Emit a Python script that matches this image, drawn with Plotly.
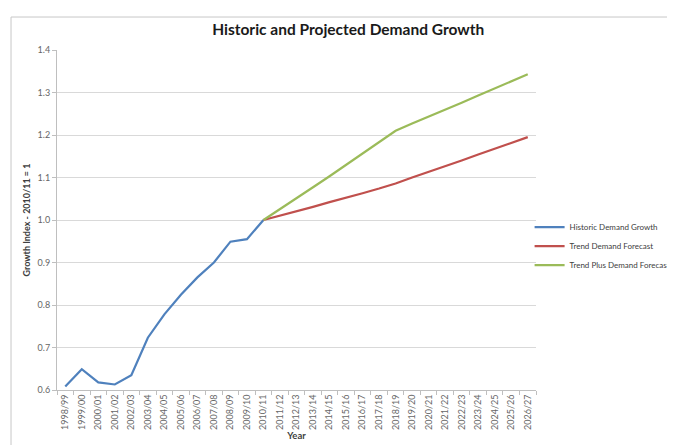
import plotly.graph_objects as go

years = ["1998/99", "1999/00", "2000/01", "2001/02", "2002/03", "2003/04", "2004/05",
         "2005/06", "2006/07", "2007/08", "2008/09", "2009/10", "2010/11", "2011/12",
         "2012/13", "2013/14", "2014/15", "2015/16", "2016/17", "2017/18", "2018/19",
         "2019/20", "2020/21", "2021/22", "2022/23", "2023/24", "2024/25", "2025/26",
         "2026/27"]

historic_years = years[:13]
historic = [0.608, 0.649, 0.618, 0.613, 0.635, 0.723, 0.778, 0.824, 0.865, 0.900,
            0.949, 0.955, 1.000]

forecast_years = years[12:]
trend = [1.000, 1.010, 1.020, 1.031, 1.042, 1.052, 1.063, 1.074, 1.086,
         1.100, 1.113, 1.127, 1.140, 1.154, 1.168, 1.181, 1.195]
trend_plus = [1.000, 1.025, 1.050, 1.077, 1.103, 1.130, 1.157, 1.184, 1.210,
              1.227, 1.243, 1.260, 1.276, 1.293, 1.310, 1.326, 1.343]

FONT = "Lato, Liberation Sans, Arial"
W, H = 667, 437  # page body has an 8px margin

fig = go.Figure()
fig.add_trace(go.Scatter(x=historic_years, y=historic, mode="lines",
                         name="Historic Demand Growth",
                         line=dict(color="#4F81BD", width=2.2)))
fig.add_trace(go.Scatter(x=forecast_years, y=trend, mode="lines",
                         name="Trend Demand Forecast",
                         line=dict(color="#C0504D", width=2.2)))
fig.add_trace(go.Scatter(x=forecast_years, y=trend_plus, mode="lines",
                         name="Trend Plus Demand Forecast",
                         line=dict(color="#9BBB59", width=2.2)))

fig.update_layout(
    width=W, height=H,
    margin=dict(l=49, r=139, t=42, b=55, autoexpand=False),
    paper_bgcolor="white", plot_bgcolor="white",
    font=dict(family=FONT, color="#404040"),
    title=dict(text="<b>Historic and Projected Demand Growth</b>",
               xref="container", x=0.51, xanchor="center",
               yref="container", y=0.95, yanchor="middle",
               font=dict(size=15.5, color="#1a1a1a", family=FONT)),
    showlegend=True,
    legend=dict(xref="container", x=0.782, xanchor="left",
                yref="container", y=0.455, yanchor="middle",
                font=dict(size=8, color="#404040", family=FONT),
                itemwidth=30, tracegroupgap=0, bgcolor="rgba(0,0,0,0)"),
    xaxis=dict(
        type="category", categoryorder="array", categoryarray=years,
        tickangle=-90, tickfont=dict(size=9, color="#666666"),
        showline=True, linecolor="#bfbfbf", linewidth=1,
        ticks="outside", tickson="boundaries", ticklen=4, tickcolor="#bfbfbf",
        showgrid=False, range=[-0.5, 28.5], automargin=False,
        title=dict(text="<b>Year</b>", font=dict(size=9.5, color="#404040"), standoff=2),
    ),
    yaxis=dict(
        range=[0.6, 1.4], dtick=0.1, tickformat=".1f",
        tickfont=dict(size=9, color="#666666"),
        showline=True, linecolor="#bfbfbf", linewidth=1,
        ticks="outside", ticklen=4, tickcolor="#bfbfbf",
        showgrid=True, gridcolor="#d9d9d9", gridwidth=1, zeroline=False,
        automargin=False,
        title=dict(text="<b>Growth Index - 2010/11 = 1</b>",
                   font=dict(size=9, color="#404040"), standoff=5),
    ),
    shapes=[
        dict(type="line", xref="paper", yref="paper", x0=-0.096, x1=1.4,
             y0=1.097, y1=1.097, line=dict(color="#c8c8c8", width=1)),
        dict(type="line", xref="paper", yref="paper", x0=-0.096, x1=-0.096,
             y0=1.097, y1=-0.3, line=dict(color="#c8c8c8", width=1)),
    ],
)

fig.write_html("out.html")
